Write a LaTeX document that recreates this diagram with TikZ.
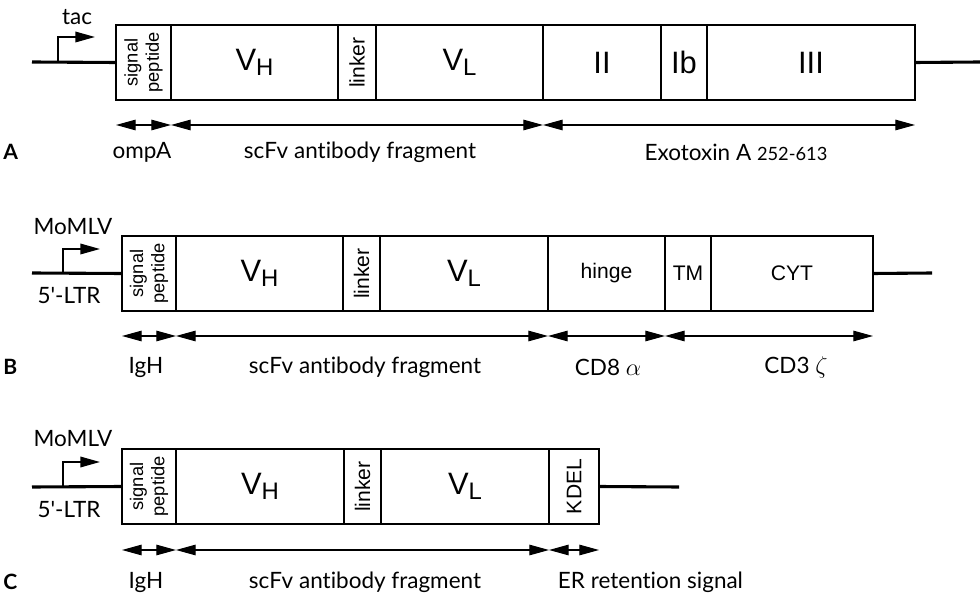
\documentclass[tikz,border=0pt]{standalone}
\usepackage{fontspec}
\setmainfont{Liberation Sans}
\newfontfamily\capfont[Ligatures=NoCommon]{Lato}
\usetikzlibrary{arrows.meta}

\newcommand{\px}{0.25mm}
\newcommand{\vreg}[1]{{\fontsize{22}{22}\selectfont V\raisebox{-4pt}{\fontsize{17}{17}\selectfont #1}}}
\newcommand{\sigtext}{\rotatebox{90}{\shortstack{signal\\peptide}}}

\tikzstyle{seg} = [draw, line width=1pt, anchor=north west, inner sep=0pt, outer sep=0pt,
  minimum height=75*\px, font=\fontsize{15}{15}\selectfont]
\tikzstyle{bigseg} = [font=\fontsize{22}{22}\selectfont]
\tikzstyle{smallseg} = [font=\fontsize{13}{14}\selectfont]
\tikzstyle{dna} = [line width=2.2pt]
\tikzstyle{dimline} = [line width=0.8pt,
  {Triangle[length=14pt,width=7.5pt]}-{Triangle[length=14pt,width=7.5pt]}]
\tikzstyle{prom} = [line width=1.2pt, -{Triangle[length=14pt,width=7.5pt]}]
\tikzstyle{captext} = [font=\capfont\fontsize{16}{18}\selectfont]
\tikzstyle{panel} = [font=\capfont\bfseries\fontsize{15}{18}\selectfont, anchor=west, inner xsep=0pt]

\begin{document}
\begin{tikzpicture}[x=\px,y=-\px]
\useasboundingbox (0,0) rectangle (980,595);

% A: scFv fused to exotoxin A
\node[seg, smallseg, minimum width=55*\px] (aSig) at (116,25) {\sigtext};
\node[seg, minimum width=167*\px] (aVH) at (171,25) {\vreg{H}};
\node[seg, minimum width=38*\px] (aLnk) at (338,25) {\rotatebox{90}{linker}};
\node[seg, minimum width=167*\px] (aVL) at (376,25) {\vreg{L}};
\node[seg, bigseg, minimum width=118*\px] (aII) at (543,25) {II};
\node[seg, bigseg, minimum width=46*\px] (aIb) at (661,25) {Ib};
\node[seg, bigseg, minimum width=208*\px] (aIII) at (707,25) {III};

\coordinate (aStart) at (32,62);
\coordinate (aEnd) at (980,62);
\coordinate (aProm) at (58,62);
\draw[dna] (aStart) -- (aSig.west);
\draw[dna] (aIII.east) -- (aEnd);
\draw[prom] (aProm) -- ++(0,-25) -- ++(37,0);
\node[captext] (aTac) at (77,17) {tac};

\coordinate (aRow) at (0,125);
\draw[dimline] (aSig.west |- aRow) -- (aSig.east |- aRow);
\draw[dimline] (aVH.west |- aRow) -- (aVL.east |- aRow);
\draw[dimline] (aII.west |- aRow) -- (aIII.east |- aRow);

\node[panel] (lblA) at (3,152) {A};
\node[captext] (aOmp) at (142,152) {ompA};
\node[captext] (aScfv) at (360,152) {scFv antibody fragment};
\node[captext] (aExo) at (736,152) {Exotoxin A {\fontsize{13}{14}\selectfont 252-613}};

% B: chimeric receptor
\node[seg, smallseg, minimum width=54*\px] (bSig) at (122,236) {\sigtext};
\node[seg, minimum width=167*\px] (bVH) at (176,236) {\vreg{H}};
\node[seg, minimum width=37*\px] (bLnk) at (343,236) {\rotatebox{90}{linker}};
\node[seg, minimum width=168*\px] (bVL) at (380,236) {\vreg{L}};
\node[seg, minimum width=117*\px] (bHng) at (548,236) {hinge};
\node[seg, minimum width=46*\px] (bTM) at (665,236) {TM};
\node[seg, minimum width=162*\px] (bCyt) at (711,236) {CYT};

\coordinate (bStart) at (32,273);
\coordinate (bEnd) at (932,273);
\coordinate (bProm) at (63,273);
\draw[dna] (bStart) -- (bSig.west);
\draw[dna] (bCyt.east) -- (bEnd);
\draw[prom] (bProm) -- ++(0,-24) -- ++(37,0);
\node[captext] (bVirus) at (73,227) {MoMLV};
\node[captext] (bLtr) at (69,296) {5\textquotesingle-LTR};

\coordinate (bRow) at (0,336);
\draw[dimline] (bSig.west |- bRow) -- (bSig.east |- bRow);
\draw[dimline] (bVH.west |- bRow) -- (bVL.east |- bRow);
\draw[dimline] (bHng.west |- bRow) -- (bHng.east |- bRow);
\draw[dimline] (bTM.west |- bRow) -- (bCyt.east |- bRow);

\node[panel] (lblB) at (3,367) {B};
\node[captext] (bIgh) at (146,367) {IgH};
\node[captext] (bScfv) at (365,367) {scFv antibody fragment};
\node[captext] (bCd8) at (608,367) {CD8 $\alpha$};
\node[captext] (bCd3) at (796,367) {CD3 $\zeta$};

% C: intrabody kept in the ER
\node[seg, smallseg, minimum width=54*\px] (cSig) at (122,449) {\sigtext};
\node[seg, minimum width=168*\px] (cVH) at (176,449) {\vreg{H}};
\node[seg, minimum width=37*\px] (cLnk) at (344,449) {\rotatebox{90}{linker}};
\node[seg, minimum width=168*\px] (cVL) at (381,449) {\vreg{L}};
\node[seg, minimum width=50*\px] (cKdel) at (549,449) {\rotatebox{90}{KDEL}};

\coordinate (cStart) at (32,487);
\coordinate (cEnd) at (679,487);
\coordinate (cProm) at (63,487);
\draw[dna] (cStart) -- (cSig.west);
\draw[dna] (cKdel.east) -- (cEnd);
\draw[prom] (cProm) -- ++(0,-25) -- ++(37,0);
\node[captext] (cVirus) at (73,439) {MoMLV};
\node[captext] (cLtr) at (69,510) {5\textquotesingle-LTR};

\coordinate (cRow) at (0,550);
\draw[dimline] (cSig.west |- cRow) -- (cSig.east |- cRow);
\draw[dimline] (cVH.west |- cRow) -- (cVL.east |- cRow);
\draw[dimline] (cKdel.west |- cRow) -- (cKdel.east |- cRow);

\node[panel] (lblC) at (3,582) {C};
\node[captext] (cIgh) at (146,582) {IgH};
\node[captext] (cScfv) at (365,582) {scFv antibody fragment};
\node[captext, anchor=west] (cEr) at (553,582) {ER retention signal};
\end{tikzpicture}
\end{document}
